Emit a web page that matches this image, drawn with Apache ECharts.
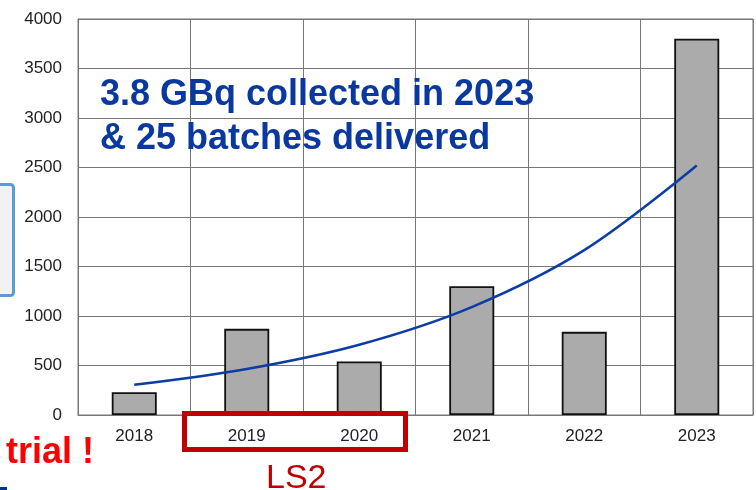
<!DOCTYPE html>
<html><head><meta charset="utf-8">
<script src="https://cdn.jsdelivr.net/npm/echarts@6/dist/echarts.min.js"></script>
<style>html,body{margin:0;padding:0;background:#fff}#c{width:756px;height:490px}</style>
</head><body><div id="c"></div>
<script>
const categories = ['2018', '2019', '2020', '2021', '2022', '2023'];
const collected = [230, 870, 540, 1300, 840, 3800];
const trend = [305, 465, 710, 1090, 1665, 2520];
const yMin = 0, yMax = 4000, yStep = 500;
const note1 = '3.8 GBq collected in 2023';
const note2 = '& 25 batches delivered';

const chart = echarts.init(document.getElementById('c'), null, {renderer: 'canvas'});
const FONT = '"Liberation Sans", Arial, sans-serif';
chart.setOption({
  animation: false,
  backgroundColor: '#fff',
  grid: {left: 78, right: 3, top: 19, bottom: 75, show: true, borderColor: '#777', borderWidth: 1},
  xAxis: {
    type: 'category', data: categories, boundaryGap: true,
    axisLine: {lineStyle: {color: '#777', width: 1}},
    axisTick: {show: false},
    splitLine: {show: true, lineStyle: {color: '#777', width: 1}},
    axisLabel: {color: '#222', fontFamily: FONT, fontSize: 17, margin: 13}
  },
  yAxis: {
    type: 'value', min: yMin, max: yMax, interval: yStep,
    axisLine: {show: true, lineStyle: {color: '#777', width: 1}},
    axisTick: {show: false},
    splitLine: {show: true, lineStyle: {color: '#777', width: 1}},
    axisLabel: {color: '#222', fontFamily: FONT, fontSize: 17, margin: 16,
                formatter: function (v) { return String(v); }}
  },
  series: [
    {type: 'bar', data: collected, barWidth: '40%',
     itemStyle: {color: '#ababab', borderColor: '#111', borderWidth: 1.8}},
    {type: 'line', data: trend, smooth: 0.35, symbol: 'none', z: 5,
     lineStyle: {color: '#0b3da3', width: 2.5}}
  ],
  graphic: [
    {type: 'text', left: 100, top: 73, z: 10,
     style: {text: note1 + '\n' + note2, font: 'bold 36px ' + FONT, fill: '#0838a0', lineHeight: 44}},
    {type: 'rect', z: 10, shape: {x: -10, y: 184.5, width: 23.5, height: 111, r: 3},
     style: {fill: '#f2f2f2', stroke: '#5b9bd5', lineWidth: 3}},
    {type: 'rect', z: 10, shape: {x: 184.5, y: 413.5, width: 221, height: 36},
     style: {fill: 'none', stroke: '#c00000', lineWidth: 5}},
    {type: 'text', left: 266, top: 462, z: 10,
     style: {text: 'LS2', font: '34px ' + FONT, fill: '#c00000'}},
    {type: 'text', left: 6, top: 435, z: 10,
     style: {text: 'trial !', font: 'bold 36px ' + FONT, fill: '#ff0000'}},
    {type: 'rect', z: 10, shape: {x: 0, y: 487, width: 7, height: 3},
     style: {fill: '#0033a0'}}
  ]
});
</script>
</body></html>
